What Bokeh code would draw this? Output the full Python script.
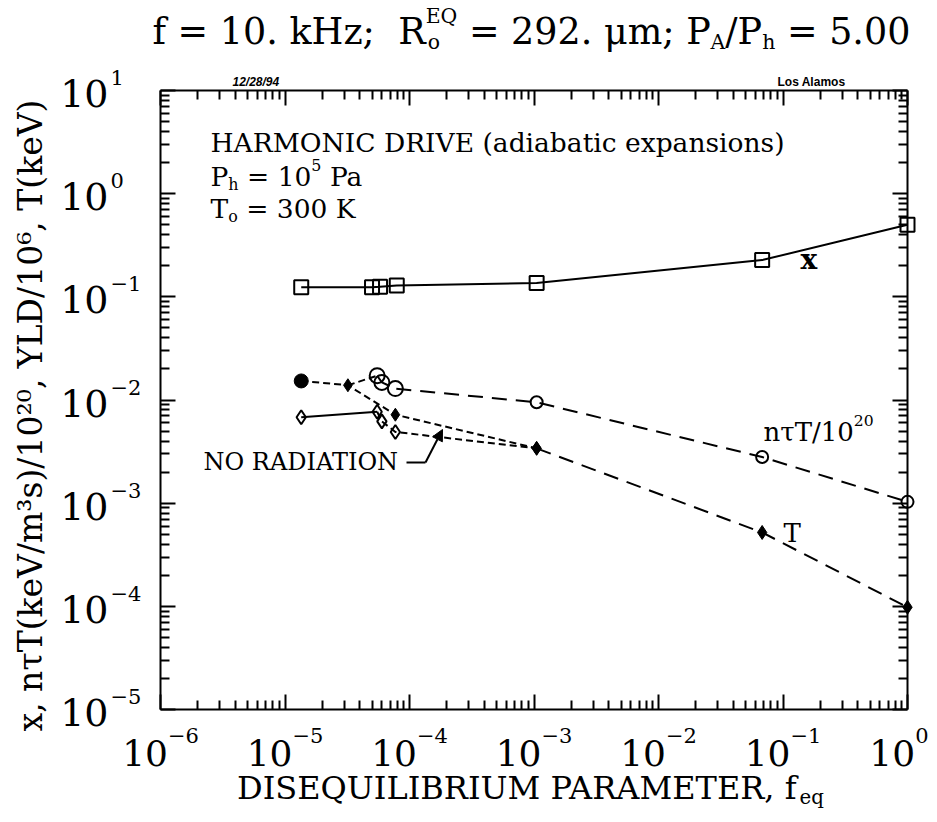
import math
from bokeh.plotting import figure
from bokeh.models import Range1d, FixedTicker, LogAxis, Label, Arrow, NormalHead, CustomJSTickFormatter
from bokeh.embed import file_html
from bokeh.resources import INLINE

# ---------------- data ----------------
feq_x = [1.35e-5, 5.0e-5, 5.8e-5, 7.9e-5, 1.05e-3, 0.068, 1.0]
val_x = [0.124, 0.124, 0.125, 0.129, 0.136, 0.227, 0.50]

feq_nt = [5.5e-5, 6.0e-5, 7.7e-5, 1.05e-3, 0.068, 1.0]
val_nt = [0.0172, 0.0148, 0.0129, 0.0095, 0.0028, 0.00103]

feq_nt_norad = [3.2e-5, 5.5e-5]
val_nt_norad = [0.0139, 0.0172]

feq_T_norad = [1.35e-5, 3.2e-5, 7.7e-5, 1.05e-3]
val_T_norad = [0.0153, 0.0139, 0.0072, 0.0034]

feq_T_rad = [1.35e-5, 5.5e-5, 6.0e-5, 7.7e-5, 1.05e-3]
val_T_rad = [0.0068, 0.0077, 0.0062, 0.0049, 0.0034]

feq_T = [1.05e-3, 0.068, 1.0]
val_T = [0.0034, 0.00052, 9.8e-5]

x_decades = [-6, -5, -4, -3, -2, -1, 0]
y_decades = [-5, -4, -3, -2, -1, 0, 1]

# ---------------- geometry (canvas pixels) ----------------
W, H = 929, 814
FL, FR, FT, FB = 160, 907, 90, 709
XMIN, XMAX, YMIN, YMAX = 1e-6, 1.0, 1e-5, 10.0
DX = (FR - FL) / (math.log10(XMAX) - math.log10(XMIN))
DY = (FB - FT) / (math.log10(YMAX) - math.log10(YMIN))

def X(px):
    return 10 ** (math.log10(XMIN) + (px - FL) / DX)

def Y(py):
    return 10 ** (math.log10(YMAX) - (py - FT) / DY)

def PX(v):
    return FL + (math.log10(v) - math.log10(XMIN)) * DX

def PY(v):
    return FT + (math.log10(YMAX) - math.log10(v)) * DY

SERIF = "DejaVu Serif"
CW = {' ': .318, 'f': .37, '=': .838, '.': .318, 'k': .606, 'H': .872, 'z': .527, ';': .337,
      'R': .753, 'E': .73, 'Q': .82, 'o': .602, 'μ': .644, 'm': .948, 'P': .673, 'A': .722,
      '/': .337, 'h': .644, 'a': .596, 'e': .592, 'q': .640, 'D': .802, 'I': .395, 'S': .685,
      'U': .843, 'L': .664, 'B': .735, 'M': 1.024, 'T': .667, ',': .318, 'N': .875, 'O': .820,
      'K': .747, '−': .838, '-': .338, 'n': .644, 'τ': .55}
for d in "0123456789":
    CW[d] = .636

def tw(t, s):
    return sum(CW.get(c, .62) for c in t) * s

# the frame covers the whole canvas; the plot box is drawn by four bounded axes
p = figure(width=W, height=H, x_axis_type="log", y_axis_type="log",
           x_range=Range1d(X(0), X(W)), y_range=Range1d(Y(H), Y(0)),
           output_backend="svg", toolbar_location=None,
           min_border=0, min_border_left=0, min_border_right=0,
           min_border_top=0, min_border_bottom=0)
p.grid.visible = False
p.outline_line_color = None
p.background_fill_color = "white"
p.border_fill_color = "white"

blank = CustomJSTickFormatter(code="return ''")

def xticker():
    return FixedTicker(ticks=[10.0 ** k for k in x_decades],
                       minor_ticks=[m * 10.0 ** k for k in x_decades[:-1] for m in range(2, 10)])

def yticker():
    return FixedTicker(ticks=[10.0 ** k for k in y_decades],
                       minor_ticks=[m * 10.0 ** k for k in y_decades[:-1] for m in range(2, 10)])

def style_axis(ax, ticker, loc, bounds):
    ax.ticker = ticker
    ax.formatter = blank
    ax.fixed_location = loc
    ax.bounds = bounds
    ax.axis_line_width = 2
    ax.axis_line_color = "black"
    ax.major_tick_in = 15
    ax.major_tick_out = 0
    ax.minor_tick_in = 9
    ax.minor_tick_out = 0
    ax.major_tick_line_width = 2
    ax.minor_tick_line_width = 2
    ax.major_label_text_font_size = "1px"

style_axis(p.xaxis[0], xticker(), YMIN, (XMIN, XMAX))
style_axis(p.yaxis[0], yticker(), XMIN, (YMIN, YMAX))
ax_top = LogAxis()
style_axis(ax_top, xticker(), YMAX, (XMIN, XMAX))
p.add_layout(ax_top, "above")
ax_right = LogAxis()
style_axis(ax_right, yticker(), XMAX, (YMIN, YMAX))
p.add_layout(ax_right, "right")

LONG = "15 9"
SHORT = "7 4"

# ---------------- series ----------------
p.line(feq_x, val_x, line_color="black", line_width=2)
p.scatter(feq_x, val_x, marker="square", size=14, fill_color=None, line_color="black", line_width=2)

p.line(feq_nt, val_nt, line_color="black", line_width=2, line_dash=LONG)
p.scatter(feq_nt[:3], val_nt[:3], marker="circle", size=15, fill_color=None, line_color="black", line_width=2)
p.scatter(feq_nt[3:], val_nt[3:], marker="circle", size=12, fill_color=None, line_color="black", line_width=2)

p.line(feq_nt_norad, val_nt_norad, line_color="black", line_width=2, line_dash=SHORT)
p.line(feq_T_norad, val_T_norad, line_color="black", line_width=2, line_dash=SHORT)
p.scatter(feq_T_norad[:1], val_T_norad[:1], marker="circle", size=14, fill_color="black", line_color="black")
p.scatter(feq_T_norad[1:], val_T_norad[1:], marker="diamond", size=13, fill_color="black", line_color="black")

p.line(feq_T_rad[:2], val_T_rad[:2], line_color="black", line_width=2)
p.line(feq_T_rad[1:], val_T_rad[1:], line_color="black", line_width=2, line_dash=SHORT)
p.scatter(feq_T_rad[:4], val_T_rad[:4], marker="diamond", size=14, fill_color=None, line_color="black", line_width=2)

p.line(feq_T, val_T, line_color="black", line_width=2, line_dash=LONG)
p.scatter(feq_T, val_T, marker="diamond", size=14, fill_color="black", line_color="black")

# ---------------- text helpers (canvas pixels, y from top, y = vertical centre) ----------------
def lab(text, px, py, size, align="left", baseline="middle", angle=0, font=SERIF, style="normal"):
    p.add_layout(Label(x=px, y=py, x_units="canvas", y_units="canvas", text=text, text_font=font,
                       text_font_size=f"{size:.1f}px", text_align=align, text_baseline=baseline,
                       angle=angle, text_color="black", text_font_style=style))

def put(t, x, y, s):
    lead = len(t) - len(t.lstrip(" "))
    core = t.strip(" ")
    if core:
        lab(core, x + tw(" " * lead, s), y, s)
    return tw(t, s)

SUP, SUB = 0.42, 0.30

def rich(pieces, x0, c, size, small=0.56):
    x = x0
    for t, k in pieces:
        if k == "n":
            x += put(t, x, c, size)
        elif k == "sup":
            x += put(t, x, c - size * SUP, size * small)
        elif k == "sub":
            x += put(t, x, c + size * SUB, size * small)
        elif k == "supsub":
            sp, sb = t
            s = size * small
            lab(sp, x, c - size * SUP, s)
            lab(sb, x + 2, c + size * SUB, s)
            x += max(tw(sp, s), tw(sb, s) + 2)
    return x

def rich_width(pieces, size, small=0.56):
    w = 0
    for t, k in pieces:
        if k == "n":
            w += tw(t, size)
        elif k == "supsub":
            w += max(tw(t[0], size * small), tw(t[1], size * small) + 2)
        else:
            w += tw(t, size * small)
    return w

# title
title = [("f = 10. kHz;", "n"), ("  R", "n"), (("EQ", "o"), "supsub"), (" = 292. μm; P", "n"),
         ("A", "sub"), ("/P", "n"), ("h", "sub"), (" = 5.00", "n")]
rich(title, 152, 31, 36.5)

# corner notes
lab("12/28/94", 232, 81, 12, font="Liberation Sans", style="bold italic")
lab("Los Alamos", 845, 81, 12, align="right", font="Liberation Sans", style="bold")

# in-plot notes
lab("HARMONIC DRIVE (adiabatic expansions)", 210, 142, 26.5)
rich([("P", "n"), ("h", "sub"), (" = 10", "n"), ("5", "sup"), (" Pa", "n")], 210, 176, 26.5, small=0.6)
rich([("T", "n"), ("o", "sub"), (" = 300 K", "n")], 210, 208, 26.5, small=0.6)

lab("x", 800, 259, 28, style="bold")
rich([("nτT/10", "n"), ("20", "sup")], 763, 431, 26, small=0.6)
lab("T", 783, 532, 26)

lab("NO RADIATION", 203, 461, 24)
p.line([X(406), X(425)], [Y(462), Y(462)], line_color="black", line_width=2)
p.add_layout(Arrow(end=NormalHead(size=11, fill_color="black", line_color="black"),
                   x_start=X(425), y_start=Y(462), x_end=X(442), y_end=Y(429),
                   line_color="black", line_width=2))

# tick labels
for k in x_decades:
    px = PX(10.0 ** k)
    e = "−%d" % (-k) if k < 0 else "%d" % k
    wtot = tw("10", 36) + tw(e, 21)
    x0 = min(px - wtot / 2, W - 1 - wtot)
    lab("10", x0, 752, 36)
    lab(e, x0 + tw("10", 36), 735, 21)

for k in y_decades:
    py = PY(10.0 ** k)
    e = "−%d" % (-k) if k < 0 else "%d" % k
    lab("10", 108, py + 3, 38, align="right")
    lab(e, 110, py - 13, 21)

# axis titles
xl = [("DISEQUILIBRIUM PARAMETER, f", "n"), ("eq", "sub")]
wx = rich_width(xl, 32, small=0.62)
rich(xl, 530 - wx / 2, 787, 32, small=0.62)

lab("x, nτT(keV/m³s)/10²⁰, YLD/10⁶, T(keV)", 30, 415, 33, align="center", angle=math.pi / 2)

open("out.html", "w").write(file_html(p, INLINE))
